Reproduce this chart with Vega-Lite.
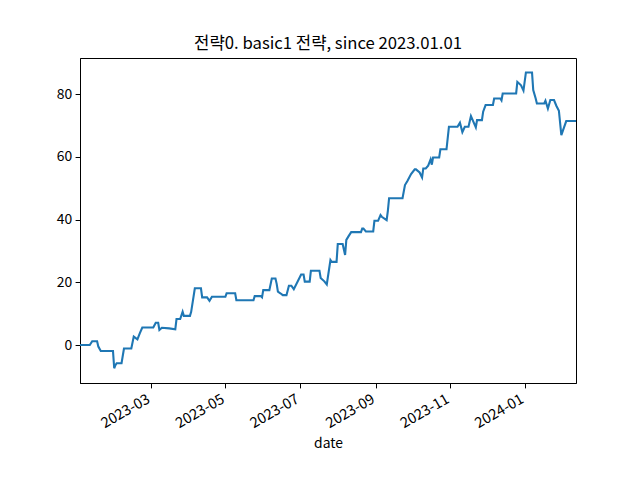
{
  "$schema": "https://vega.github.io/schema/vega-lite/v6.json",
  "width": 496,
  "height": 325,
  "autosize": {"type": "none"},
  "padding": {"left": 80, "top": 58, "right": 64, "bottom": 97},
  "background": "white",
  "config": {
    "view": {"stroke": "black", "strokeWidth": 1},
    "font": "Noto Sans CJK KR"
  },
  "title": {
    "text": "전략0. basic1 전략, since 2023.01.01",
    "fontSize": 16.7,
    "fontWeight": "normal",
    "color": "black",
    "baseline": "bottom",
    "offset": -12,
    "font": "Noto Sans CJK KR"
  },
  "data": {
    "values": [
      {"date": "2023-01-02", "value": 0},
      {"date": "2023-01-10", "value": 0},
      {"date": "2023-01-12", "value": 1.2},
      {"date": "2023-01-16", "value": 1.2},
      {"date": "2023-01-17", "value": -0.5},
      {"date": "2023-01-19", "value": -1.9},
      {"date": "2023-01-29", "value": -1.9},
      {"date": "2023-01-30", "value": -7.4},
      {"date": "2023-01-31", "value": -6.4},
      {"date": "2023-02-01", "value": -5.8},
      {"date": "2023-02-05", "value": -5.8},
      {"date": "2023-02-07", "value": -1.1},
      {"date": "2023-02-13", "value": -1.1},
      {"date": "2023-02-15", "value": 2.7},
      {"date": "2023-02-18", "value": 1.8},
      {"date": "2023-02-20", "value": 3.8},
      {"date": "2023-02-22", "value": 5.6},
      {"date": "2023-03-03", "value": 5.6},
      {"date": "2023-03-05", "value": 7.1},
      {"date": "2023-03-07", "value": 7.1},
      {"date": "2023-03-08", "value": 4.8},
      {"date": "2023-03-10", "value": 5.5},
      {"date": "2023-03-16", "value": 5.3},
      {"date": "2023-03-21", "value": 5.0},
      {"date": "2023-03-22", "value": 8.3},
      {"date": "2023-03-25", "value": 8.3},
      {"date": "2023-03-27", "value": 10.6},
      {"date": "2023-03-28", "value": 9.3},
      {"date": "2023-04-02", "value": 9.3},
      {"date": "2023-04-03", "value": 10.6},
      {"date": "2023-04-06", "value": 18.1},
      {"date": "2023-04-11", "value": 18.1},
      {"date": "2023-04-12", "value": 15.2},
      {"date": "2023-04-16", "value": 15.2},
      {"date": "2023-04-18", "value": 14.1},
      {"date": "2023-04-20", "value": 15.4},
      {"date": "2023-05-01", "value": 15.4},
      {"date": "2023-05-02", "value": 16.5},
      {"date": "2023-05-09", "value": 16.5},
      {"date": "2023-05-10", "value": 14.3},
      {"date": "2023-05-24", "value": 14.3},
      {"date": "2023-05-25", "value": 15.6},
      {"date": "2023-05-30", "value": 15.6},
      {"date": "2023-05-31", "value": 15.2},
      {"date": "2023-06-01", "value": 17.5},
      {"date": "2023-06-06", "value": 17.5},
      {"date": "2023-06-08", "value": 21.2},
      {"date": "2023-06-11", "value": 21.2},
      {"date": "2023-06-12", "value": 19.5},
      {"date": "2023-06-13", "value": 17.0},
      {"date": "2023-06-15", "value": 16.5},
      {"date": "2023-06-17", "value": 15.9},
      {"date": "2023-06-20", "value": 15.9},
      {"date": "2023-06-22", "value": 18.9},
      {"date": "2023-06-24", "value": 18.9},
      {"date": "2023-06-26", "value": 17.8},
      {"date": "2023-07-02", "value": 22.5},
      {"date": "2023-07-04", "value": 22.5},
      {"date": "2023-07-05", "value": 20.2},
      {"date": "2023-07-09", "value": 20.2},
      {"date": "2023-07-10", "value": 23.7},
      {"date": "2023-07-17", "value": 23.7},
      {"date": "2023-07-18", "value": 21.4},
      {"date": "2023-07-21", "value": 20.3},
      {"date": "2023-07-23", "value": 19.3},
      {"date": "2023-07-26", "value": 27.1},
      {"date": "2023-07-27", "value": 26.5},
      {"date": "2023-07-31", "value": 26.5},
      {"date": "2023-08-01", "value": 32.2},
      {"date": "2023-08-05", "value": 32.2},
      {"date": "2023-08-07", "value": 28.7},
      {"date": "2023-08-08", "value": 33.5},
      {"date": "2023-08-10", "value": 34.8},
      {"date": "2023-08-12", "value": 36.0},
      {"date": "2023-08-20", "value": 36.0},
      {"date": "2023-08-21", "value": 37.1},
      {"date": "2023-08-22", "value": 37.1},
      {"date": "2023-08-24", "value": 36.2},
      {"date": "2023-08-30", "value": 36.2},
      {"date": "2023-08-31", "value": 39.6},
      {"date": "2023-09-03", "value": 39.6},
      {"date": "2023-09-05", "value": 41.4},
      {"date": "2023-09-06", "value": 40.9},
      {"date": "2023-09-10", "value": 39.8},
      {"date": "2023-09-11", "value": 42.8},
      {"date": "2023-09-12", "value": 46.8},
      {"date": "2023-09-23", "value": 46.8},
      {"date": "2023-09-25", "value": 51.0},
      {"date": "2023-09-27", "value": 52.3},
      {"date": "2023-09-30", "value": 54.5},
      {"date": "2023-10-03", "value": 56.0},
      {"date": "2023-10-04", "value": 56.0},
      {"date": "2023-10-07", "value": 55.0},
      {"date": "2023-10-09", "value": 53.4},
      {"date": "2023-10-10", "value": 56.3},
      {"date": "2023-10-12", "value": 56.3},
      {"date": "2023-10-14", "value": 57.2},
      {"date": "2023-10-16", "value": 59.2},
      {"date": "2023-10-17", "value": 57.5},
      {"date": "2023-10-18", "value": 59.8},
      {"date": "2023-10-23", "value": 59.8},
      {"date": "2023-10-24", "value": 62.4},
      {"date": "2023-10-29", "value": 62.4},
      {"date": "2023-10-31", "value": 69.6},
      {"date": "2023-11-07", "value": 69.6},
      {"date": "2023-11-09", "value": 70.9},
      {"date": "2023-11-11", "value": 67.9},
      {"date": "2023-11-13", "value": 69.6},
      {"date": "2023-11-16", "value": 69.6},
      {"date": "2023-11-18", "value": 73.0},
      {"date": "2023-11-22", "value": 69.4},
      {"date": "2023-11-23", "value": 71.7},
      {"date": "2023-11-27", "value": 71.7},
      {"date": "2023-11-28", "value": 74.4},
      {"date": "2023-11-30", "value": 76.5},
      {"date": "2023-12-06", "value": 76.5},
      {"date": "2023-12-07", "value": 78.6},
      {"date": "2023-12-12", "value": 78.6},
      {"date": "2023-12-13", "value": 78.0},
      {"date": "2023-12-14", "value": 80.2},
      {"date": "2023-12-25", "value": 80.2},
      {"date": "2023-12-26", "value": 83.9},
      {"date": "2023-12-29", "value": 82.8},
      {"date": "2023-12-31", "value": 81.1},
      {"date": "2024-01-02", "value": 86.9},
      {"date": "2024-01-07", "value": 86.9},
      {"date": "2024-01-08", "value": 81.3},
      {"date": "2024-01-10", "value": 78.6},
      {"date": "2024-01-11", "value": 77.0},
      {"date": "2024-01-17", "value": 77.0},
      {"date": "2024-01-18", "value": 77.9},
      {"date": "2024-01-20", "value": 75.4},
      {"date": "2024-01-22", "value": 78.1},
      {"date": "2024-01-25", "value": 78.1},
      {"date": "2024-01-27", "value": 76.2},
      {"date": "2024-01-29", "value": 74.7},
      {"date": "2024-01-31", "value": 66.9},
      {"date": "2024-02-04", "value": 71.4},
      {"date": "2024-02-12", "value": 71.4}
    ]
  },
  "mark": {"type": "line", "color": "#1f77b4", "strokeWidth": 2.1, "clip": true},
  "encoding": {
    "x": {
      "field": "date",
      "type": "temporal",
      "scale": {"type": "utc", "nice": false},
      "axis": {
        "title": "date",
        "format": "%Y-%m",
        "tickCount": {"interval": "month", "step": 2},
        "labelAngle": -30,
        "labelAlign": "right",
        "labelBaseline": "top",
        "labelOverlap": false,
        "labelFlush": false,
        "labelOffset": -6,
        "grid": false,
        "domainColor": "black",
        "tickColor": "black",
        "labelColor": "black",
        "titleColor": "black",
        "labelFontSize": 14.5,
        "titleFontSize": 13.9,
        "titleFontWeight": "normal",
        "tickSize": 4.9,
        "labelPadding": 4,
        "titlePadding": 6
      }
    },
    "y": {
      "field": "value",
      "type": "quantitative",
      "scale": {"domain": [-12.1, 91.5], "nice": false, "zero": false},
      "axis": {
        "title": null,
        "values": [0, 20, 40, 60, 80],
        "grid": false,
        "domainColor": "black",
        "tickColor": "black",
        "labelColor": "black",
        "labelFontSize": 13.9,
        "tickSize": 4.9,
        "labelPadding": 3.5
      }
    }
  }
}
